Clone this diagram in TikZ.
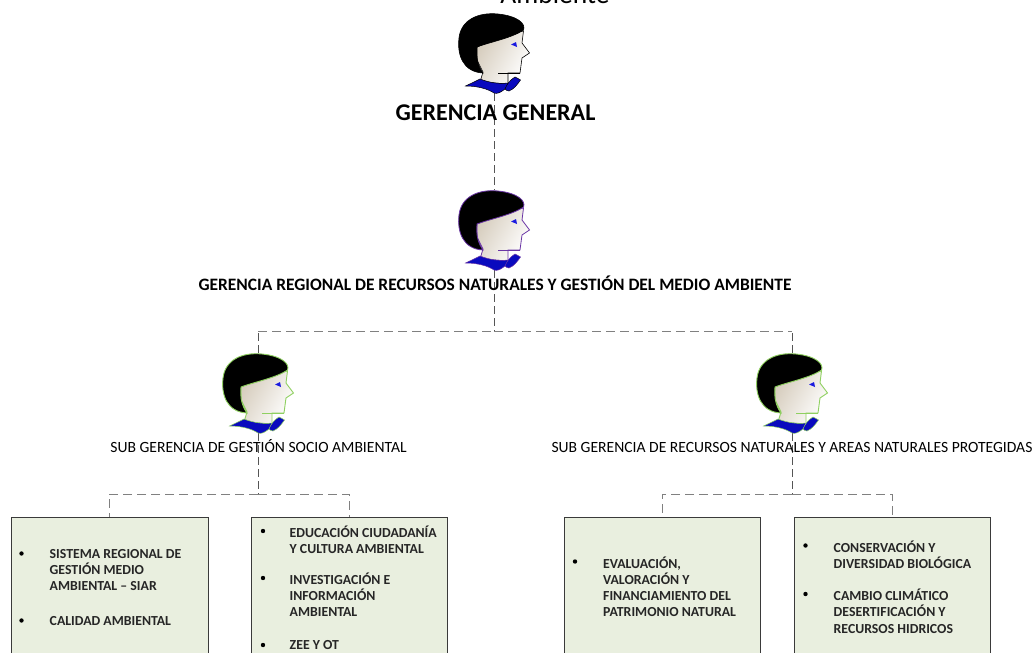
\documentclass[tikz,border=0pt]{standalone}
\usepackage{fontspec}
\setmainfont{Carlito}
\newcommand{\myhead}[5]{%
 \begin{scope}[shift={(#1,#2)}]
  \path[draw=#3,line width=#4,left color=#5!85!white,right color=white,shading angle=60]
    (477,47) -- (477,60) -- (483,72) -- (480,82) -- (508,84) -- (508,73) -- (520,73) -- (522,58)
    -- (529.5,53) -- (522,43) -- (523.5,31) -- (500,36) -- cycle;
  \draw[#3,line width=#4] (498,73) -- (520,73);
  \path[draw=#3,line width=#4,fill=black]
    (523.5,30) .. controls (526,24) and (518,16) .. (498,14)
    .. controls (478,12) and (461,20) .. (459,38)
    .. controls (457,55) and (463,72) .. (483,73)
    .. controls (478,66) and (476,58) .. (477,47)
    .. controls (490,42) and (512,38) .. (523.5,30) -- cycle;
  \path[draw=#3,line width=0.5pt,fill=collarblue]
    (465.5,86) .. controls (472,83) and (476,81) .. (480,79)
    .. controls (490,83) and (500,84) .. (508,83)
    .. controls (507,87) and (506,88) .. (505,89)
    .. controls (500,93) and (497,94) .. (494,93)
    .. controls (488,89) and (478,86) .. (465.5,86) -- cycle;
  \path[draw=#3,line width=0.5pt,fill=collarblue]
    (505,89) .. controls (507,84) and (510,80) .. (515,77)
    .. controls (517,78) and (519,79) .. (520.5,80)
    .. controls (517,85) and (514,89) .. (509,91)
    .. controls (507,91) and (506,90) .. (505,89) -- cycle;
  \path[fill=eyeblue] (511,44.5) -- (516,42) -- (517,47) -- cycle;
 \end{scope}}
\definecolor{collarblue}{HTML}{0A0ABE}
\definecolor{eyeblue}{HTML}{1A1AE0}
\definecolor{boxfill}{HTML}{E9EFDF}
\definecolor{boxline}{HTML}{3A3A3A}
\definecolor{skin}{HTML}{CFC4B2}
\definecolor{purp}{HTML}{6A35A5}
\definecolor{grn}{HTML}{8FD060}
\definecolor{conn}{HTML}{555555}
\definecolor{connlight}{HTML}{808080}
\tikzset{
 x=1pt,y=-1pt,
 headbox/.style={inner sep=0pt,minimum width=72pt,minimum height=80pt},
 linkline/.style={draw=conn,line width=1pt,dash pattern=on 8pt off 4pt},
 linklight/.style={draw=connlight,line width=1pt,dash pattern=on 9pt off 5pt},
 listbox/.style={draw=boxline,fill=boxfill,line width=1pt,anchor=north west,minimum height=150pt,inner sep=0pt},
 label/.style={inner sep=0pt,text=black,anchor=base},
 item/.style={inner sep=0pt,anchor=north west,align=left,font=\fontsize{13.8}{16}\selectfont\bfseries,text=black!85},
 bul/.style={circle,fill=black,inner sep=0pt,minimum size=4.4pt},
}
\begin{document}
\begin{tikzpicture}
\useasboundingbox (0,0) rectangle (1034,653);
\clip (0,0) rectangle (1034,653);
% anchors for the heads
\node[headbox] (h1) at (494,53) {};
\node[headbox] (h2) at (494,230) {};
\node[headbox] (h3) at (258,393) {};
\node[headbox] (h4) at (792,393) {};
% connectors
\coordinate (jt) at (494,331);
\coordinate (jl) at (258,331);
\coordinate (jr) at (792,331);
\coordinate (jla) at (258,494);
\coordinate (jra) at (792,494);
\draw[linkline] (h1.south) -- (h2.north);
\draw[linkline] (h2.south) -- (jt);
\draw[linklight] (jl) -- (jt);
\draw[linklight] (jt) -- (jr);
\draw[linkline] (h3.north) -- (jl);
\draw[linkline] (h4.north) -- (jr);
% boxes
\node[listbox,minimum width=197pt] (b1) at (11,517) {};
\node[listbox,minimum width=196pt] (b2) at (251,517) {};
\node[listbox,minimum width=196pt] (b3) at (564,517) {};
\node[listbox,minimum width=196pt] (b4) at (794,517) {};
\draw[linkline] (h3.south) -- (jla);
\draw[linkline] (h4.south) -- (jra);
\draw[linklight] (jla) -- (109,494) -- (109,517);
\draw[linklight] (jla) -- (349,494) -- (349,517);
\draw[linklight] (jra) -- (662,494) -- (662,517);
\draw[linklight] (jra) -- (892,494) -- (892,517);
% heads
\myhead{0}{0}{black}{0.6pt}{skin}
\myhead{0}{177}{purp}{0.8pt}{skin}
\myhead{-236}{340}{grn}{0.9pt}{skin}
\myhead{298}{340}{grn}{0.9pt}{skin}
% titles
\node[label,font=\fontsize{27.5}{29}\selectfont] (t0) at (555,3) {Ambiente};
\node[label,font=\fontsize{24}{26}\selectfont\bfseries] (t1) at (495.5,120) {GERENCIA GENERAL};
\node[label,font=\fontsize{17.4}{19}\selectfont\bfseries] (t2) at (495,290) {GERENCIA REGIONAL DE RECURSOS NATURALES Y GESTIÓN DEL MEDIO AMBIENTE};
\node[label,font=\fontsize{15.6}{17}\selectfont] (t3) at (258.5,452) {SUB GERENCIA DE GESTIÓN SOCIO AMBIENTAL};
\node[label,font=\fontsize{15.6}{17}\selectfont] (t4) at (792,452) {SUB GERENCIA DE RECURSOS NATURALES Y AREAS NATURALES PROTEGIDAS};
% box 1
\node[bul] (b1a) at (21.5,553.5) {};
\node[item] (i1a) at (49.5,549) {SISTEMA REGIONAL DE\\GESTIÓN MEDIO\\AMBIENTAL – SIAR};
\node[bul] (b1b) at (21.5,620.5) {};
\node[item] (i1b) at (49.5,616) {CALIDAD AMBIENTAL};
% box 2
\node[bul] (b2a) at (263,531) {};
\node[item] (i2a) at (289.5,526) {EDUCACIÓN CIUDADANÍA\\Y CULTURA AMBIENTAL};
\node[bul] (b2b) at (263,578) {};
\node[item] (i2b) at (289.5,573) {INVESTIGACIÓN E\\INFORMACIÓN\\AMBIENTAL};
\node[bul] (b2c) at (263,645) {};
\node[item] (i2c) at (289.5,640) {ZEE Y OT};
% box 3
\node[bul] (b3a) at (575,561.5) {};
\node[item] (i3a) at (603,556.5) {EVALUACIÓN,\\VALORACIÓN Y\\FINANCIAMIENTO DEL};
\node[item] (i3b) at (603,607.5) {PATRIMONIO NATURAL};
% box 4
\node[bul] (b4a) at (805.5,545.5) {};
\node[item] (i4a) at (833.5,540.5) {CONSERVACIÓN Y\\DIVERSIDAD BIOLÓGICA};
\node[bul] (b4b) at (805.5,594) {};
\node[item] (i4b) at (833.5,589) {CAMBIO CLIMÁTICO\\DESERTIFICACIÓN Y};
\node[item] (i4c) at (833.5,624) {RECURSOS HIDRICOS};
\end{tikzpicture}
\end{document}
